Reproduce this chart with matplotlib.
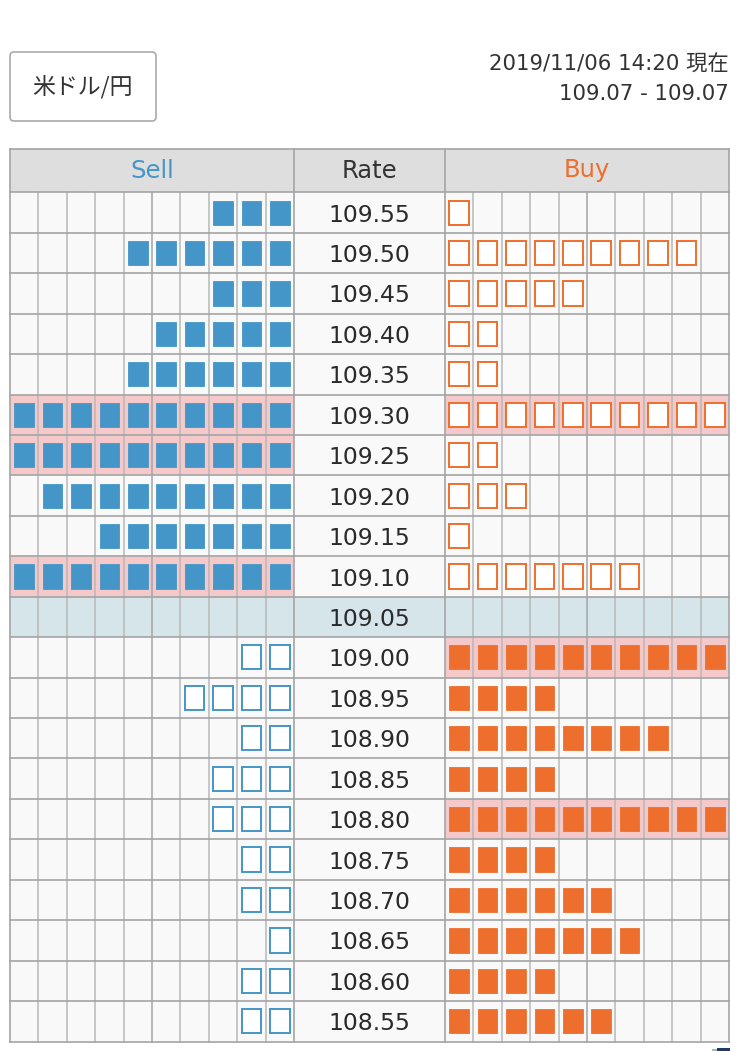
import matplotlib
matplotlib.use("Agg")
import matplotlib.pyplot as plt
from matplotlib.patches import Rectangle, FancyBboxPatch

plt.rcParams["font.family"] = ["DejaVu Sans", "Noto Sans CJK JP"]

rates = ["109.55", "109.50", "109.45", "109.40", "109.35", "109.30", "109.25",
         "109.20", "109.15", "109.10", "109.05", "109.00", "108.95", "108.90",
         "108.85", "108.80", "108.75", "108.70", "108.65", "108.60", "108.55"]
sell_counts = [3, 6, 3, 5, 6, 10, 10, 9, 7, 10, 0, 2, 4, 2, 3, 3, 2, 2, 1, 2, 2]
buy_counts = [1, 9, 5, 2, 2, 10, 2, 3, 1, 7, 0, 10, 4, 8, 4, 10, 4, 6, 7, 4, 6]
current_rate = "109.05"
first_below = 11  # rows from here on are under the current rate

BLUE = "#4496c8"
ORANGE = "#ee6f2d"
PINK = "#f5c9c9"
BAND = "#d6e5ea"
HEAD = "#dedede"
CELL = "#f9f9f9"
LINE = "#b8b8b8"
DARK = "#a4a4a4"

W, H = 740, 1051
LEFT, SELL_R, BUY_L, RIGHT = 10, 294, 445, 729
TOP, HEAD_B, BOTTOM = 149, 192.4, 1041.5
N_COLS = 10
CW = (SELL_R - LEFT) / N_COLS
RH = (BOTTOM - HEAD_B) / len(rates)
SQ_W, SQ_H = 19.6, 24.2

fig = plt.figure(figsize=(W / 100, H / 100), dpi=100)
ax = fig.add_axes([0, 0, 1, 1])
ax.set_xlim(0, W)
ax.set_ylim(H, 0)
ax.axis("off")


def square(x0, i, j, color, filled):
    cx = x0 + (j + 0.5) * CW
    cy = HEAD_B + (i + 0.5) * RH
    ax.add_patch(Rectangle((cx - SQ_W / 2, cy - SQ_H / 2), SQ_W, SQ_H,
                           facecolor=color if filled else "white",
                           edgecolor=color, lw=0.6 if filled else 1.4, zorder=4))


# header
ax.add_patch(Rectangle((LEFT, TOP), RIGHT - LEFT, HEAD_B - TOP, fc=HEAD, ec="none"))
ax.text((LEFT + SELL_R) / 2, 177.5, "Sell", color=BLUE, fontsize=17.5, ha="center", va="baseline")
ax.text((SELL_R + BUY_L) / 2, 177.5, "Rate", color="#333333", fontsize=17.5, ha="center", va="baseline")
ax.text((BUY_L + RIGHT) / 2, 177.5, "Buy", color=ORANGE, fontsize=17.5, ha="center", va="baseline")

# rows
for i, rate in enumerate(rates):
    y0 = HEAD_B + i * RH
    band = rate == current_rate
    ax.add_patch(Rectangle((LEFT, y0), RIGHT - LEFT, RH, fc=BAND if band else CELL, ec="none"))
    if sell_counts[i] == N_COLS:
        ax.add_patch(Rectangle((LEFT, y0), SELL_R - LEFT, RH, fc=PINK, ec="none", zorder=1))
    if buy_counts[i] == N_COLS:
        ax.add_patch(Rectangle((BUY_L, y0), RIGHT - BUY_L, RH, fc=PINK, ec="none", zorder=1))
    ax.text((SELL_R + BUY_L) / 2, y0 + RH / 2 + 9, rate, color="#2a2a2a", fontsize=16.9,
            ha="center", va="baseline", zorder=5)
    below = i >= first_below
    for k in range(sell_counts[i]):
        square(LEFT, i, N_COLS - 1 - k, BLUE, not below)
    for k in range(buy_counts[i]):
        square(BUY_L, i, k, ORANGE, below)

# grid
for x0 in (LEFT, BUY_L):
    for j in range(1, N_COLS):
        x = x0 + j * CW
        ax.plot([x, x], [HEAD_B, BOTTOM], color=DARK if j == 5 else LINE, lw=1.1, zorder=2)
for i in range(len(rates) + 1):
    y = HEAD_B + i * RH
    ax.plot([LEFT, RIGHT], [y, y], color=DARK, lw=1.2, zorder=3)
for x in (LEFT, SELL_R, BUY_L, RIGHT):
    ax.plot([x, x], [TOP, BOTTOM], color=DARK, lw=1.2, zorder=3)
ax.plot([LEFT, RIGHT], [TOP, TOP], color=DARK, lw=1.2, zorder=3)

# pair button
ax.add_patch(FancyBboxPatch((13, 55), 140, 63, boxstyle="round,pad=3,rounding_size=4",
                            fc="white", ec="#aaaaaa", lw=1.2))
ax.text(82, 93, "米ドル/円", color="#333333", fontsize=16.5, family=["Noto Sans CJK JP", "DejaVu Sans"],
        ha="center", va="baseline")

# time stamp
ax.text(729, 71, "2019/11/06 14:20 現在", color="#333333", fontsize=15.3, ha="right", va="baseline")
ax.text(729, 100, "109.07 - 109.07", color="#333333", fontsize=15.3, ha="right", va="baseline")

# clipped icon at the bottom edge
ax.add_patch(Rectangle((717, 1048), 13, 3, fc="#1f3a68", ec="none"))
ax.add_patch(Rectangle((712, 1049), 5, 2, fc="#a9b4c6", ec="none"))

fig.savefig("out.png", dpi=100)
